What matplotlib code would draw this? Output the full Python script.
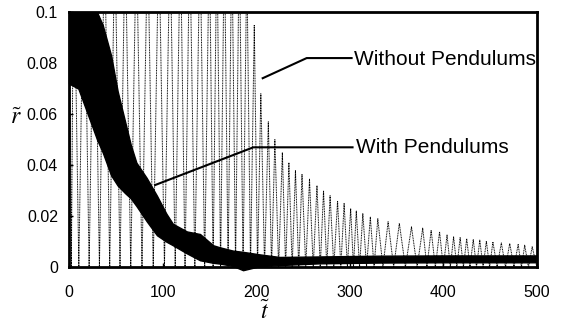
import numpy as np
import matplotlib
matplotlib.use("Agg")
import matplotlib.pyplot as plt

plt.rcParams['font.family'] = ['Liberation Sans', 'DejaVu Sans']
plt.rcParams['mathtext.fontset'] = 'stix'

# Without pendulums: peak times and peak heights
# (peaks before t~190 run off the top of the axis)
t_peak_wo = [0, 5, 16, 27, 38, 49, 60, 72, 84, 96, 108, 119, 129, 140, 150,
             158, 166, 174, 182, 190, 198, 205, 213, 220, 228, 235, 242, 249,
             257, 265, 272, 279, 287, 294, 301, 307, 314, 322, 330, 341, 353,
             366, 378, 387, 396, 404, 411, 418, 425, 432, 439, 446, 453, 462,
             471, 480, 487, 495]
r_peak_wo = [0.13, 0.13, 0.13, 0.13, 0.13, 0.13, 0.13, 0.13, 0.13, 0.13, 0.13,
             0.13, 0.13, 0.13, 0.13, 0.13, 0.13, 0.13, 0.13, 0.12, 0.095, 0.068,
             0.057, 0.050, 0.045, 0.041, 0.038, 0.0365, 0.0345, 0.032, 0.030,
             0.028, 0.026, 0.025, 0.023, 0.022, 0.021, 0.0196, 0.019, 0.0178,
             0.0172, 0.0158, 0.0153, 0.0145, 0.0139, 0.0126, 0.0119, 0.0116,
             0.0112, 0.0108, 0.0106, 0.0102, 0.0099, 0.0095, 0.0093, 0.0089,
             0.0086, 0.008]

# With pendulums: upper and lower edge of the black band
t_band = [0, 10, 20, 30, 36, 45, 52, 60, 66, 72, 83, 94, 104, 111, 126, 140,
          154, 161, 175, 186, 204, 225, 268, 332, 400, 500]
r_band_hi = [0.1, 0.1, 0.1, 0.1, 0.095, 0.083, 0.069, 0.057, 0.048, 0.041,
             0.035, 0.028, 0.021, 0.017, 0.014, 0.013, 0.0086, 0.0078, 0.0065,
             0.006, 0.005, 0.004, 0.0042, 0.0045, 0.0046, 0.0046]
r_band_lo = [0.072, 0.070, 0.060, 0.050, 0.045, 0.036, 0.032, 0.029, 0.027,
             0.024, 0.018, 0.0125, 0.010, 0.0086, 0.0054, 0.0027, 0.0017,
             0.0014, 0.0005, -0.0012, 0.0004, 0.0008, 0.0015, 0.0018, 0.0019,
             0.0019]

x_ticks = [0, 100, 200, 300, 400, 500]
y_ticks = [0, 0.02, 0.04, 0.06, 0.08, 0.1]
y_tick_labels = ['0', '0.02', '0.04', '0.06', '0.08', '0.1']

# zigzag: trough (r=0) half way between peaks
tp = np.array(t_peak_wo, dtype=float)
rp = np.array(r_peak_wo)
t_wo = [tp[0]]
r_wo = [rp[0]]
for i in range(1, len(tp)):
    t_wo += [(tp[i - 1] + tp[i]) / 2, tp[i]]
    r_wo += [0.0, rp[i]]
t_wo += [500]
r_wo += [0.0]

fig = plt.figure(figsize=(5.61, 3.29), dpi=100)
ax = fig.add_axes([0.123, 0.188, 0.834, 0.775])

ax.plot(t_wo, r_wo, color='k', lw=0.7, ls=(0, (1, 0.7)))
ax.fill_between(t_band, r_band_lo, r_band_hi, color='k', lw=1, clip_on=False)

ax.set_xlim(0, 500)
ax.set_ylim(0, 0.1)
ax.set_xticks(x_ticks)
ax.set_yticks(y_ticks)
ax.set_yticklabels(y_tick_labels)
ax.tick_params(direction='in', length=3, width=1, labelsize=11.5)
ax.tick_params(axis='x', pad=13)
ax.tick_params(axis='y', pad=8)
for s in ax.spines.values():
    s.set_linewidth(2)

# annotations with bent leader lines
ax.plot([207, 254, 302], [0.0741, 0.082, 0.082], color='k', lw=1.5, clip_on=False)
ax.text(305, 0.0815, 'Without Pendulums', fontsize=15, va='center', ha='left')
ax.plot([92, 197, 303], [0.0322, 0.047, 0.047], color='k', lw=1.5, clip_on=False)
ax.text(307, 0.0468, 'With Pendulums', fontsize=15, va='center', ha='left')

fig.text(0.028, 0.641, r'$\tilde{r}$', fontsize=17, ha='center', va='center')
fig.text(0.472, 0.052, r'$\tilde{t}$', fontsize=17, ha='center', va='center')

plt.savefig('out.png', dpi=100)
